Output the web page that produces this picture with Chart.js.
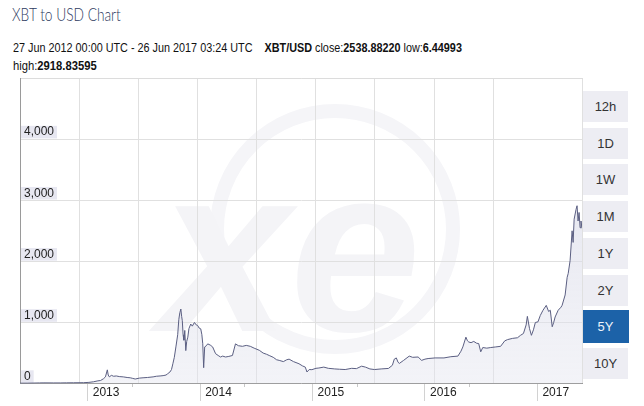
<!DOCTYPE html>
<html>
<head>
<meta charset="utf-8">
<script src="https://cdn.jsdelivr.net/npm/chart.js@4/dist/chart.umd.min.js"></script>
<style>
  body { margin: 0; background: #fff; width: 644px; height: 406px; overflow: hidden; position: relative; font-family: "Liberation Sans", Arial, sans-serif; }
  .hdr { position: absolute; left: 13px; white-space: nowrap; transform-origin: 0 0; color: #111; }
  #title { top: 3px; left: 12px; font: 300 18px Lato, "Open Sans", sans-serif; color: #2d3a5e; }
  #line1 { top: 40px; font-size: 13.5px; }
  #line2 { top: 58px; font-size: 13.5px; }
  .btn { position: absolute; left: 583px; width: 45px; height: 31px; line-height: 31px; text-align: center; background: #ededf3; color: #333; font-size: 13px; }
  .btn.on { left: 582px; width: 47px; background: #1c62a8; color: #eef3fa; }
  #wrap { position: absolute; left: 0; top: 66px; width: 590px; height: 340px; }
</style>
</head>
<body>
<div id="title" class="hdr">XBT to USD Chart</div>
<div id="line1" class="hdr">27 Jun 2012 00:00 UTC - 26 Jun 2017 03:24 UTC&nbsp;&nbsp;&nbsp; <b>XBT/USD</b> close:<b>2538.88220</b> low:<b>6.44993</b></div>
<div id="line2" class="hdr">high:<b>2918.83595</b></div>
<div id="btns"></div>
<div id="wrap"><canvas id="chart"></canvas></div>
<script>
// price data (decimal year, USD)
const dates = [
  2012.487, 2012.55, 2012.611, 2012.66, 2012.70, 2012.787, 2012.85, 2012.90, 2012.964,
  2013.052, 2013.10, 2013.141, 2013.18, 2013.203, 2013.23, 2013.247, 2013.264, 2013.272, 2013.282,
  2013.300, 2013.32, 2013.344, 2013.37, 2013.406, 2013.44, 2013.468, 2013.49, 2013.512, 2013.55,
  2013.582, 2013.62, 2013.671, 2013.70, 2013.733, 2013.76, 2013.786, 2013.80, 2013.821, 2013.835,
  2013.847, 2013.86, 2013.874, 2013.89, 2013.90, 2013.909, 2013.918, 2013.925, 2013.931, 2013.938,
  2013.945, 2013.953, 2013.962, 2013.970, 2013.980, 2013.99, 2014.006, 2014.02, 2014.039, 2014.055,
  2014.068, 2014.080, 2014.095, 2014.105, 2014.113, 2014.121, 2014.130, 2014.145, 2014.157, 2014.18,
  2014.201, 2014.227, 2014.25, 2014.271, 2014.29, 2014.316, 2014.345, 2014.377, 2014.404, 2014.43,
  2014.466, 2014.50, 2014.536, 2014.57, 2014.616, 2014.65, 2014.68, 2014.704, 2014.74, 2014.77,
  2014.793, 2014.83, 2014.86, 2014.881, 2014.92, 2014.969, 2015.00, 2015.025, 2015.040, 2015.06,
  2015.084, 2015.12, 2015.146, 2015.19, 2015.23, 2015.287, 2015.33, 2015.38, 2015.438, 2015.48,
  2015.526, 2015.56, 2015.60, 2015.641, 2015.70, 2015.765, 2015.80, 2015.817, 2015.835, 2015.850,
  2015.862, 2015.90, 2015.950, 2015.98, 2016.029, 2016.06, 2016.09, 2016.118, 2016.18, 2016.259,
  2016.32, 2016.383, 2016.41, 2016.427, 2016.454, 2016.468, 2016.480, 2016.50, 2016.524, 2016.55,
  2016.568, 2016.586, 2016.604, 2016.64, 2016.675, 2016.72, 2016.763, 2016.80, 2016.825, 2016.87,
  2016.913, 2016.94, 2016.966, 2016.99, 2017.001, 2017.02, 2017.037, 2017.055, 2017.072, 2017.095,
  2017.116, 2017.14, 2017.169, 2017.19, 2017.205, 2017.222, 2017.235, 2017.248, 2017.275, 2017.30,
  2017.310, 2017.337, 2017.355, 2017.364, 2017.381, 2017.399, 2017.408, 2017.417, 2017.434, 2017.443,
  2017.452, 2017.461, 2017.470, 2017.478, 2017.487
];
const prices = [
  6.5, 7, 9, 11, 12, 11, 11, 12.5, 13.5,
  15, 20, 30, 45, 50, 80, 110, 225, 140, 110,
  135, 120, 125, 115, 110, 100, 95, 85, 75, 90,
  95, 100, 110, 120, 125, 130, 140, 160, 190, 230,
  325, 430, 600, 800, 1050, 1160, 1220, 1100, 1030, 800,
  710, 870, 540, 690, 760, 900, 975, 940, 1000, 960,
  950, 910, 896, 800, 651, 260, 600, 620, 650, 630,
  600, 490, 460, 435, 450, 435, 445, 460, 650, 620,
  610, 625, 610, 580, 545, 500, 480, 460, 430, 390,
  380, 360, 390, 400, 360, 325, 290, 270, 190, 230,
  228, 250, 255, 270, 250, 240, 235, 230, 250, 245,
  285, 270, 240, 230, 240, 248, 300, 400, 420, 350,
  330, 380, 450, 430, 435, 380, 400, 410, 420, 420,
  440, 450, 530, 600, 760, 700, 680, 670, 690, 660,
  655, 520, 590, 580, 590, 600, 610, 700, 720, 740,
  750, 790, 820, 960, 1100, 900, 790, 880, 1000, 1010,
  1115, 1200, 1280, 1180, 1200, 930, 1000, 1090, 1200, 1250,
  1280, 1450, 1740, 1800, 2010, 2500, 2310, 2690, 2850, 2910,
  2660, 2800, 2550, 2660, 2540
];
const yearTicks = [2013, 2014, 2015, 2016, 2017];
const yearTickShift = 0.09;
const minorTicks = [2013.487, 2014.487, 2015.487, 2016.487];
const ranges = ['12h', '1D', '1W', '1M', '1Y', '2Y', '5Y', '10Y'];
const activeRange = '5Y';

// squeeze header lines to the widths seen in the original
function fitWidth(id, w) {
  const el = document.getElementById(id);
  el.style.transform = 'scaleX(' + (w / el.scrollWidth) + ')';
}
fitWidth('title', 109);
fitWidth('line1', 449);
fitWidth('line2', 84);

const btns = document.getElementById('btns');
ranges.forEach((r, i) => {
  const d = document.createElement('div');
  d.className = 'btn' + (r === activeRange ? ' on' : '');
  d.style.top = (91 + i * 36.7 - (r === activeRange ? 1 : 0)) + 'px';
  if (r === activeRange) { d.style.height = '33px'; d.style.lineHeight = '33px'; }
  d.textContent = r;
  btns.appendChild(d);
});

// faint xe logo behind the plot
const watermark = {
  id: 'watermark',
  beforeDraw(chart) {
    const ctx = chart.ctx;
    const a = chart.chartArea;
    ctx.save();
    ctx.beginPath();
    ctx.rect(a.left, a.top, a.right - a.left, a.bottom - a.top);
    ctx.clip();
    ctx.strokeStyle = '#f5f5f8';
    ctx.lineWidth = 14;
    ctx.beginPath();
    ctx.arc(335, 163, 118, 0, Math.PI * 2);
    ctx.stroke();
    ctx.fillStyle = '#f4f4f7';
    ctx.font = 'italic bold 235px "Liberation Sans", Arial, sans-serif';
    ctx.textAlign = 'center';
    ctx.textBaseline = 'alphabetic';
    ctx.fillText('xe', 290, 265);
    ctx.restore();
  }
};

const points = dates.map((d, i) => ({ x: d, y: prices[i] }));
const xMin = dates[0];
const xMax = dates[dates.length - 1];
const labelFont = { family: '"Liberation Sans", Arial, sans-serif', size: 12 };

new Chart(document.getElementById('chart'), {
  type: 'line',
  data: {
    datasets: [{
      label: 'XBT/USD',
      data: points,
      borderColor: '#5b5f82',
      borderWidth: 1,
      pointRadius: 0,
      tension: 0,
      fill: 'origin',
      backgroundColor: (ctx) => {
        const a = ctx.chart.chartArea;
        if (!a) return 'rgba(220,222,235,0.5)';
        const g = ctx.chart.ctx.createLinearGradient(0, a.top, 0, a.bottom);
        g.addColorStop(0, 'rgba(205,207,225,0.65)');
        g.addColorStop(1, 'rgba(228,229,239,0.45)');
        return g;
      }
    }]
  },
  options: {
    responsive: true,
    maintainAspectRatio: false,
    animation: false,
    layout: { padding: { left: 12, top: 12, right: 8, bottom: 4 } },
    plugins: { legend: { display: false }, tooltip: { enabled: false } },
    scales: {
      x: {
        type: 'linear',
        min: xMin,
        max: xMax,
        afterBuildTicks: (scale) => {
          scale.ticks = yearTicks.map(y => ({ value: y + yearTickShift }));
        },
        ticks: {
          align: 'start',
          labelOffset: 5,
          padding: 2,
          maxRotation: 0,
          color: '#222',
          font: labelFont,
          callback: (v) => String(Math.floor(v))
        },
        grid: { drawOnChartArea: false, drawTicks: false },
        border: { color: '#9a9a9a' }
      },
      xt: {
        type: 'linear',
        position: { y: 0 },
        min: xMin,
        max: xMax,
        afterBuildTicks: (scale) => {
          scale.ticks = yearTicks.map(y => ({ value: y + yearTickShift }));
        },
        ticks: { display: false },
        grid: { drawOnChartArea: false, drawTicks: true, tickLength: 17, color: '#d2d2d2' },
        border: { display: false }
      },
      xm: {
        type: 'linear',
        position: { y: 0 },
        min: xMin,
        max: xMax,
        afterBuildTicks: (scale) => {
          scale.ticks = minorTicks.map(v => ({ value: v }));
        },
        ticks: { display: false },
        grid: { drawOnChartArea: false, drawTicks: true, tickLength: 3, color: '#c8c8c8' },
        border: { display: false }
      },
      xg: {
        type: 'linear',
        position: 'top',
        min: 0,
        max: 9.5,
        ticks: { display: false, stepSize: 1 },
        grid: { color: '#e0e0e0', drawTicks: false },
        border: { color: '#dcdcdc' }
      },
      y: {
        min: 0,
        max: 5000,
        ticks: {
          stepSize: 1000,
          mirror: true,
          padding: 4,
          labelOffset: -7,
          color: '#222',
          font: Object.assign({ lineHeight: 1.05 }, labelFont),
          showLabelBackdrop: true,
          backdropColor: (ctx) => ctx.tick && ctx.tick.value === 5000 ? 'rgba(0,0,0,0)' : '#e7e7f1',
          backdropPadding: { left: 3, right: 3, top: 0, bottom: 0 },
          callback: (v) => v === 5000 ? '' : v.toLocaleString('en-US')
        },
        grid: { color: '#e0e0e0', drawTicks: false },
        border: { color: '#9a9a9a' }
      }
    }
  },
  plugins: [watermark]
});
</script>
</body>
</html>
